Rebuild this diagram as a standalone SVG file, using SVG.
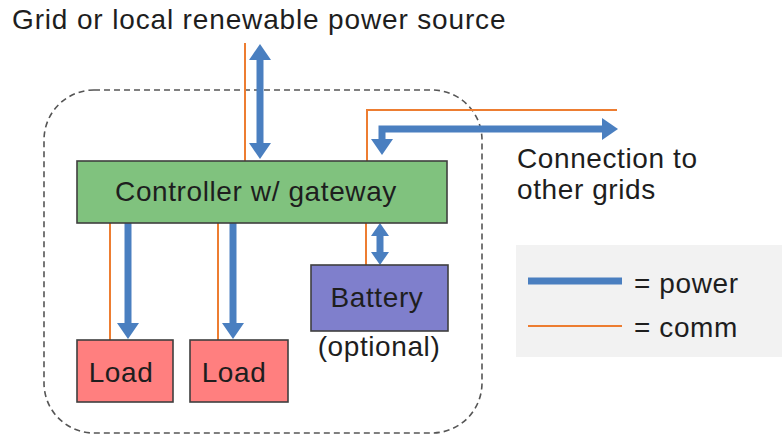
<svg xmlns="http://www.w3.org/2000/svg" width="782" height="437" viewBox="0 0 782 437">
<style>
text{font-family:"Liberation Sans",Arial,sans-serif;font-size:28px;fill:#1e1e1e;letter-spacing:0.6px}
.box{stroke:#3f3f3f;stroke-width:1.6}
.pw{stroke:#4a7fc0;stroke-width:7;fill:none}
.cm{stroke:#ed7d31;stroke-width:2;fill:none}
</style>
<defs>
<marker id="ah" viewBox="0 0 16 22" markerWidth="16" markerHeight="22" refX="2" refY="11" markerUnits="userSpaceOnUse" orient="auto-start-reverse">
<path d="M0,0 L16,11 L0,22 z" fill="#4a7fc0"/>
</marker>
<marker id="ahs" viewBox="0 0 13 18" markerWidth="13" markerHeight="18" refX="2" refY="9" markerUnits="userSpaceOnUse" orient="auto-start-reverse">
<path d="M0,0 L13,9 L0,18 z" fill="#4a7fc0"/>
</marker>
</defs>
<rect width="782" height="437" fill="#ffffff"/>
<g id="boundary">
<rect x="44" y="90" width="438" height="343" rx="50" ry="50" fill="none" stroke="#555" stroke-width="1.6" stroke-dasharray="6,4"/>
</g>
<g id="legend">
<rect x="516" y="245" width="266" height="112" fill="#f2f2f2"/>
<line x1="528" y1="281" x2="622" y2="281" class="pw"/>
<line x1="528" y1="326" x2="622" y2="326" class="cm"/>
<text x="634" y="293">= power</text>
<text x="634" y="337">= comm</text>
</g>
<g id="source-label">
<text x="12" y="29" style="letter-spacing:0.85px">Grid or local renewable power source</text>
</g>
<g id="other-grids-label">
<text x="517" y="168">Connection to</text>
<text x="517" y="199">other grids</text>
</g>
<g id="connectors">
<line x1="245" y1="43" x2="245" y2="161" class="cm"/>
<line x1="260" y1="58" x2="260" y2="145" class="pw" marker-start="url(#ah)" marker-end="url(#ah)"/>
<polyline points="367,161 367,110 617,110" class="cm"/>
<polyline points="382,141 382,129 604,129" class="pw" marker-start="url(#ah)" marker-end="url(#ah)"/>
<line x1="110" y1="223" x2="110" y2="340" class="cm"/>
<line x1="128" y1="223" x2="128" y2="325" class="pw" marker-end="url(#ah)"/>
<line x1="218" y1="223" x2="218" y2="340" class="cm"/>
<line x1="233" y1="223" x2="233" y2="325" class="pw" marker-end="url(#ah)"/>
<line x1="366" y1="223" x2="366" y2="265" class="cm"/>
<line x1="380" y1="234" x2="380" y2="254" class="pw" stroke-width="6" marker-start="url(#ahs)" marker-end="url(#ahs)"/>
</g>
<g id="controller">
<rect x="77" y="161" width="370" height="62" class="box" fill="#80c27e"/>
<text x="256" y="201" text-anchor="middle">Controller w/ gateway</text>
</g>
<g id="load1">
<rect x="77" y="340" width="96" height="62" class="box" fill="#ff7f7f"/>
<text x="121" y="382" text-anchor="middle">Load</text>
</g>
<g id="load2">
<rect x="190" y="340" width="98" height="62" class="box" fill="#ff7f7f"/>
<text x="234" y="382" text-anchor="middle">Load</text>
</g>
<g id="battery">
<rect x="311" y="265" width="137" height="66" class="box" fill="#7f7fcc"/>
<text x="377" y="307" text-anchor="middle">Battery</text>
<text x="379" y="356" text-anchor="middle">(optional)</text>
</g>
</svg>
